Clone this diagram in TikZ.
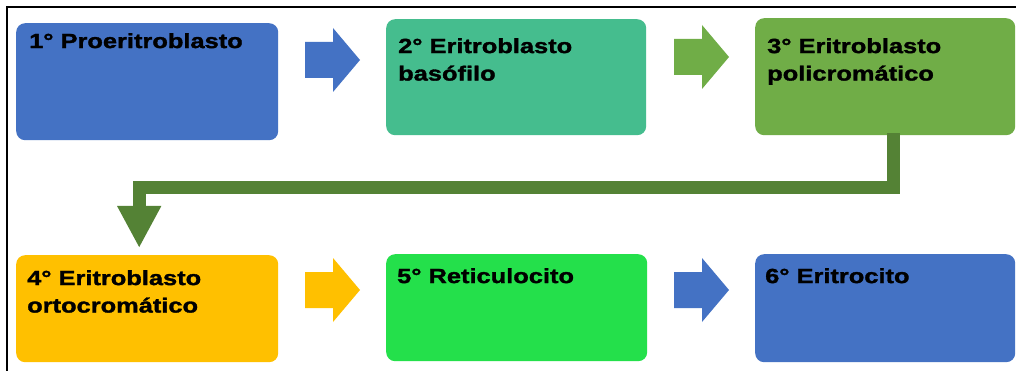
\documentclass[tikz,border=0pt]{standalone}
\usepackage{fontspec}
\setmainfont{Liberation Sans}[FakeStretch=1.24,FakeBold=1.6]
\usetikzlibrary{arrows.meta,calc}
\definecolor{cblue}{HTML}{4472C4}
\definecolor{cteal}{HTML}{45BD8E}
\definecolor{cgreen}{HTML}{70AD47}
\definecolor{cdkgreen}{HTML}{548235}
\definecolor{cgold}{HTML}{FFC000}
\definecolor{clime}{HTML}{24E04B}
\begin{document}
\begin{tikzpicture}[x=1pt,y=-1pt,
  box/.style={rectangle, rounded corners=9pt, inner sep=0pt, anchor=north west},
  lbl/.style={anchor=north west, inner sep=0pt, align=left, text=black,
    font=\fontsize{20.5}{27.5}\selectfont\bfseries},
  blockarrow/.pic={\path[pic actions] (-28,-18) -- (0,-18) -- (0,-32) -- (27,0) -- (0,32) -- (0,18) -- (-28,18) -- cycle;},
  elbowline/.style={draw=cdkgreen, line width=13pt, -{Triangle[width=41pt,length=42pt]}}]
\useasboundingbox (0,0) rectangle (1016,371);
\fill[white] (0,0) rectangle (1016,371);
\draw[line width=2pt] (7,371) -- (7,7) -- (1016,7);
% boxes
\node[box, fill=cblue, minimum width=262pt, minimum height=117pt] (b1) at (16,23) {};
\node[box, fill=cteal, minimum width=260pt, minimum height=116pt] (b2) at (386,19) {};
\node[box, fill=cgreen, minimum width=260pt, minimum height=117pt] (b3) at (755,18) {};
\node[box, fill=cgold, minimum width=262pt, minimum height=107pt] (b4) at (16,255) {};
\node[box, fill=clime, minimum width=261pt, minimum height=107pt] (b5) at (386,254) {};
\node[box, fill=cblue, minimum width=260pt, minimum height=108pt] (b6) at (755,254) {};
% labels
\node[lbl] (t1) at ([shift={(13,10)}]b1.north west) {1° Proeritroblasto};
\node[lbl] (t2) at ([shift={(12,19)}]b2.north west) {2° Eritroblasto\\basófilo};
\node[lbl] (t3) at ([shift={(12,20)}]b3.north west) {3° Eritroblasto\\policromático};
\node[lbl] (t4) at ([shift={(11,15)}]b4.north west) {4° Eritroblasto\\ortocromático};
\node[lbl] (t5) at ([shift={(11,14)}]b5.north west) {5° Reticulocito};
\node[lbl] (t6) at ([shift={(10,14)}]b6.north west) {6° Eritrocito};
% block arrows
\pic[fill=cblue] at (333,60) {blockarrow};
\pic[fill=cgreen] at (702,57) {blockarrow};
\pic[fill=cgold] at (333,290) {blockarrow};
\pic[fill=cblue] at (702,290) {blockarrow};
% elbow connector
\coordinate (s) at ([xshift=8pt,yshift=2pt]b3.south);
\coordinate (e) at ([xshift=-8pt,yshift=7pt]b4.north);
\draw[elbowline] (s) -- (s |- 0,188) -| (e);
\end{tikzpicture}
\end{document}
